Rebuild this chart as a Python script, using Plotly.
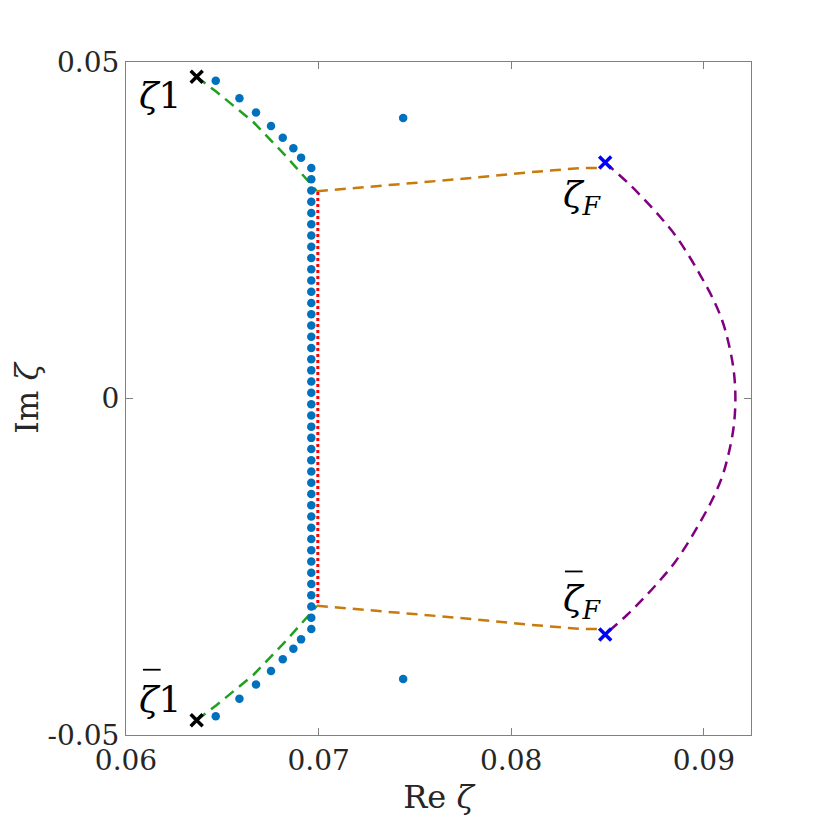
import plotly.graph_objects as go

# ---------------- data ----------------
# discrete eigenvalues (blue dots)
dots_x = ([0.06466, 0.06589, 0.06675, 0.06753, 0.06814, 0.06869, 0.06909]
          + [0.06962] * 42
          + [0.06909, 0.06869, 0.06814, 0.06753, 0.06675, 0.06589, 0.06466]
          + [0.07439, 0.07439])
col_y = [0.03425, 0.03258, 0.03091, 0.02924, 0.02757, 0.02590, 0.02423,
         0.02255, 0.02088, 0.01921, 0.01754, 0.01587, 0.01420, 0.01253,
         0.01086, 0.00919, 0.00752, 0.00585, 0.00418, 0.00251, 0.00084,
         -0.00084, -0.00251, -0.00418, -0.00585, -0.00752, -0.00919, -0.01086,
         -0.01253, -0.01420, -0.01587, -0.01754, -0.01921, -0.02088, -0.02255,
         -0.02423, -0.02590, -0.02757, -0.02924, -0.03091, -0.03258, -0.03425]
dots_y = ([0.04723, 0.04460, 0.04248, 0.04049, 0.03876, 0.03717, 0.03579]
          + col_y
          + [-0.03579, -0.03717, -0.03876, -0.04049, -0.04248, -0.04460, -0.04723]
          + [0.04168, -0.04168])

# green dashed branches
green_top_x = [0.06367, 0.06471, 0.06661, 0.06835, 0.06973, 0.06991]
green_top_y = [0.04780, 0.04554, 0.04108, 0.03588, 0.03143, 0.03080]
green_bot_x = [0.06367, 0.06471, 0.06661, 0.06835, 0.06973, 0.06991]
green_bot_y = [-0.04780, -0.04554, -0.04108, -0.03588, -0.03143, -0.03080]

# orange dashed branches
orange_top_x = [0.06991, 0.07718, 0.08108, 0.08359, 0.08470]
orange_top_y = [0.03080, 0.03257, 0.03365, 0.03424, 0.03424]
orange_bot_x = [0.06991, 0.07718, 0.08108, 0.08359, 0.08470]
orange_bot_y = [-0.03080, -0.03257, -0.03365, -0.03424, -0.03424]

# purple dashed arc
arc_x = [0.08488, 0.08514, 0.08601, 0.08687, 0.08774, 0.08852, 0.08921,
         0.08982, 0.09043, 0.09095, 0.09129, 0.09155, 0.09164,
         0.09155, 0.09129, 0.09095, 0.09043, 0.08982, 0.08921, 0.08852,
         0.08774, 0.08687, 0.08601, 0.08514, 0.08488]
arc_y = [0.03505, 0.03440, 0.03217, 0.02970, 0.02697, 0.02425, 0.02128,
         0.01831, 0.01509, 0.01163, 0.00817, 0.00420, 0.0,
         -0.00420, -0.00817, -0.01163, -0.01509, -0.01831, -0.02128, -0.02425,
         -0.02697, -0.02970, -0.03217, -0.03440, -0.03505]

# red dotted vertical cut
red_x = [0.06996, 0.06996]
red_y = [0.03070, -0.03070]

# marked points
z1_x = [0.06367, 0.06367]
z1_y = [0.04780, -0.04780]
zF_x = [0.08488, 0.08488]
zF_y = [0.03505, -0.03505]

x_ticks = [0.06, 0.07, 0.08, 0.09]
x_ticktext = ["0.06", "0.07", "0.08", "0.09"]
y_ticks = [-0.05, 0, 0.05]
y_ticktext = ["-0.05", "0", "0.05"]

# point labels: text, x, y, has bar
label_text = ["<i>ζ</i>1", "<i>ζ</i>1", "<i>ζ</i><sub><i>F</i></sub>", "<i>ζ</i><sub><i>F</i></sub>"]
label_x = [0.06178, 0.06178, 0.08369, 0.08369]
label_y = [0.0450, -0.0447, 0.0299, -0.0301]
label_bar = [False, True, False, True]

FONT = "DejaVu Serif"
GREEN = "#1fa01f"
ORANGE = "#c87a0a"
PURPLE = "#800080"
DASH = "11px,7px"

fig = go.Figure()

for xs, ys in [(green_top_x, green_top_y), (green_bot_x, green_bot_y)]:
    fig.add_trace(go.Scatter(x=xs, y=ys, mode="lines",
                             line=dict(color=GREEN, width=2.5, dash=DASH),
                             showlegend=False, hoverinfo="skip"))
for xs, ys in [(orange_top_x, orange_top_y), (orange_bot_x, orange_bot_y)]:
    fig.add_trace(go.Scatter(x=xs, y=ys, mode="lines",
                             line=dict(color=ORANGE, width=2.5, dash=DASH),
                             showlegend=False, hoverinfo="skip"))
fig.add_trace(go.Scatter(x=arc_x, y=arc_y, mode="lines",
                         line=dict(color=PURPLE, width=2.5, dash=DASH, shape="spline"),
                         showlegend=False, hoverinfo="skip"))
fig.add_trace(go.Scatter(x=red_x, y=red_y, mode="lines",
                         line=dict(color="#ff0000", width=3, dash="3px,3px"),
                         showlegend=False, hoverinfo="skip"))
fig.add_trace(go.Scatter(x=dots_x, y=dots_y, mode="markers",
                         marker=dict(color="#0072bd", size=8.5),
                         showlegend=False))
fig.add_trace(go.Scatter(x=z1_x, y=z1_y, mode="markers",
                         marker=dict(symbol="x-thin", size=12,
                                     line=dict(color="black", width=3.5)),
                         showlegend=False))
fig.add_trace(go.Scatter(x=zF_x, y=zF_y, mode="markers",
                         marker=dict(symbol="x-thin", size=12,
                                     line=dict(color="#0000ff", width=3.5)),
                         showlegend=False))

ann_font = dict(family=FONT, size=36, color="black")
for t, lx, ly, bar in zip(label_text, label_x, label_y, label_bar):
    fig.add_annotation(x=lx, y=ly, text=t, showarrow=False,
                       xref="x", yref="y", xanchor="center", yanchor="middle",
                       font=ann_font)
    if bar:
        fig.add_shape(type="line", xref="x", yref="y",
                      x0=lx - 0.00090, x1=lx + 0.00002,
                      y0=ly + 0.0044, y1=ly + 0.0044,
                      line=dict(color="black", width=1.8))

axis_common = dict(showgrid=False, zeroline=False, showline=True,
                   linecolor="#808080", linewidth=1, mirror="ticks",
                   ticks="inside", ticklen=7, tickcolor="#808080",
                   tickfont=dict(family=FONT, size=28, color="#262626"))

fig.update_xaxes(range=[0.06, 0.09245], tickvals=x_ticks, ticktext=x_ticktext,
                 title=dict(text="Re <i>ζ</i>", font=dict(family=FONT, size=32, color="#262626"),
                            standoff=10),
                 **axis_common)
fig.update_yaxes(range=[-0.05, 0.05], tickvals=y_ticks, ticktext=y_ticktext,
                 title=dict(text="Im <i>ζ</i>", font=dict(family=FONT, size=32, color="#262626"),
                            standoff=14),
                 **axis_common)

fig.update_layout(width=822, height=822,
                  margin=dict(l=118, r=79, t=54, b=95, autoexpand=False),
                  plot_bgcolor="white", paper_bgcolor="white")

fig.write_html("out.html")
